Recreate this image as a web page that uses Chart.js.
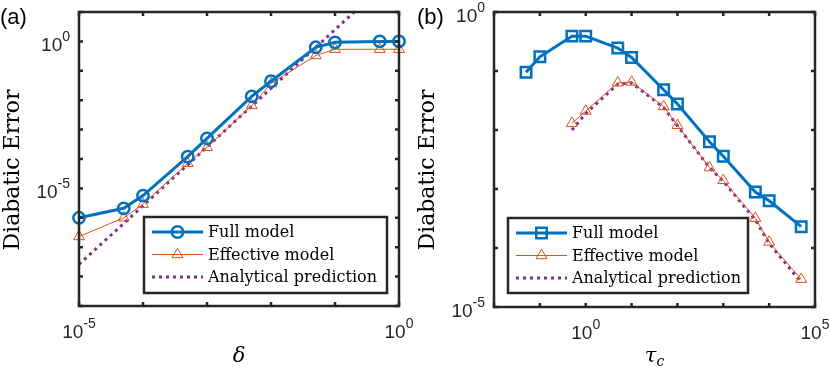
<!DOCTYPE html>
<html>
<head>
<meta charset="utf-8">
<script src="https://cdn.jsdelivr.net/npm/chart.js@4.4.1/dist/chart.umd.min.js"></script>
<style>
  html, body { margin: 0; padding: 0; background: #fff; }
  #wrap { position: relative; width: 830px; height: 370px; }
  .panel { position: absolute; top: 0; width: 415px; height: 370px; }
</style>
</head>
<body>
<div id="wrap">
  <div class="panel" style="left:0"><canvas id="chartA" width="415" height="370"></canvas></div>
  <div class="panel" style="left:415px"><canvas id="chartB" width="415" height="370"></canvas></div>
</div>
<script>
// ---- panel (a): error vs delta ----
const deltaVals = [1e-5, 5e-5, 1e-4, 5e-4, 1e-3, 5e-3, 1e-2, 5e-2, 1e-1, 5e-1, 1];
const fullA = [1.0e-6, 2.1e-6, 5.7e-6, 1.2e-4, 5.0e-4, 1.35e-2, 4.4e-2, 0.63, 0.93, 1.0, 1.0];
const effA = [2.3e-7, 1.0e-6, 2.9e-6, 7.1e-5, 2.5e-4, 6.6e-3, 3.7e-2, 0.33, 0.54, 0.54, 0.54];
const analyticAx = [1e-5, 0.2];
const analyticAy = [2.6e-8, 10];

const aTicksX = [1e-5, 1e-4, 1e-3, 1e-2, 1e-1, 1];
const aTicksY = [1e-9, 1e-8, 1e-7, 1e-6, 1e-5, 1e-4, 1e-3, 1e-2, 1e-1, 1, 10];
const aLabelX = [1e-5, 1];
const aLabelXExp = ["-5", "0"];
const aLabelY = [1e-5, 1];
const aLabelYExp = ["-5", "0"];

// ---- panel (b): error vs tau_c ----
const tauVals = [0.05, 0.1, 0.5, 1, 5, 10, 50, 100, 500, 1000, 5000, 1e4, 5e4];
const fullB = [0.095, 0.174, 0.39, 0.39, 0.245, 0.17, 0.048, 0.0275, 6.3e-3, 3.6e-3, 8.9e-4, 6.3e-4, 2.3e-4];
const tauEff = [0.5, 1, 5, 10, 50, 100, 500, 1000, 5000, 1e4, 5e4];
const effB = [0.013, 0.021, 0.063, 0.065, 0.025, 0.012, 2.3e-3, 1.4e-3, 3.2e-4, 1.26e-4, 2.95e-5];
const analyticB = [0.01, 0.019, 0.06, 0.063, 0.024, 0.0118, 2.3e-3, 1.35e-3, 3.0e-4, 1.2e-4, 2.6e-5];

const bTicksX = [1e-2, 1e-1, 1, 10, 100, 1e3, 1e4, 1e5];
const bTicksY = [1e-5, 1e-4, 1e-3, 1e-2, 1e-1, 1];
const bLabelX = [1, 1e5];
const bLabelXExp = ["0", "5"];
const bLabelY = [1e-5, 1];
const bLabelYExp = ["-5", "0"];

const legendLabels = ["Full model", "Effective model", "Analytical prediction"];

const BLUE = "#0072BD", ORANGE = "#D95319", PURPLE = "#7E2F8E", AXIS = "#262626";
const SERIF = '"DejaVu Serif", serif';
const SANS = '"Liberation Sans", Arial, sans-serif';

function pts(xs, ys) {
    return xs.map((x, i) => ({ x: x, y: ys[i] }));
}

function drawMarker(ctx, style, x, y, r) {
    ctx.beginPath();
    if (style === "circle") {
        ctx.arc(x, y, r, 0, 2 * Math.PI);
    } else if (style === "rect") {
        const s = r * Math.SQRT1_2;
        ctx.rect(x - s, y - s, 2 * s, 2 * s);
    } else if (style === "triangle") {
        for (let i = 0; i < 3; i++) {
            const ang = i * 2 * Math.PI / 3;
            const px = x + Math.sin(ang) * r, py = y - Math.cos(ang) * r;
            if (i) ctx.lineTo(px, py); else ctx.moveTo(px, py);
        }
        ctx.closePath();
    }
    ctx.stroke();
}

// "10" with a raised exponent, like matlab tick labels
function drawPow(ctx, exp, x, baseline, align) {
    ctx.font = "19px " + SANS;
    const wb = ctx.measureText("10").width;
    ctx.font = "14px " + SANS;
    const we = ctx.measureText(exp).width;
    const total = wb + we;
    let x0 = x;
    if (align === "center") x0 = x - total / 2;
    if (align === "right") x0 = x - total;
    ctx.textAlign = "left";
    ctx.textBaseline = "alphabetic";
    ctx.font = "19px " + SANS;
    ctx.fillText("10", x0, baseline);
    ctx.font = "14px " + SANS;
    ctx.fillText(exp, x0 + wb, baseline - 10);
}

const matlabAxes = {
    id: "matlabAxes",
    afterDraw(chart, args, o) {
        const ctx = chart.ctx, a = chart.chartArea;
        const xs = chart.scales.x, ys = chart.scales.y;
        ctx.save();

        // legend box
        const lb = o.legendBox;
        ctx.fillStyle = "#fff";
        ctx.fillRect(lb.x, lb.y, lb.w, lb.h);
        chart.data.datasets.forEach((ds, i) => {
            const cy = lb.y + 15 + i * 22.5;
            const x1 = lb.x + 8, x2 = lb.x + 59;
            ctx.strokeStyle = ds.borderColor;
            ctx.lineWidth = ds.borderWidth;
            ctx.setLineDash(ds.borderDash || []);
            ctx.beginPath();
            ctx.moveTo(x1, cy);
            ctx.lineTo(x2, cy);
            ctx.stroke();
            ctx.setLineDash([]);
            if (ds.pointRadius > 0) {
                ctx.lineWidth = ds.pointBorderWidth;
                drawMarker(ctx, ds.pointStyle, (x1 + x2) / 2, cy, ds.pointRadius);
            }
            ctx.fillStyle = "#000";
            ctx.font = "16px " + SERIF;
            ctx.textAlign = "left";
            ctx.textBaseline = "middle";
            ctx.fillText(ds.label, lb.x + 64, cy + 1);
        });
        ctx.strokeStyle = AXIS;
        ctx.lineWidth = 2.5;
        ctx.strokeRect(lb.x, lb.y, lb.w, lb.h);

        // axes box and inward ticks on all four sides
        ctx.strokeStyle = AXIS;
        ctx.lineWidth = 2.5;
        ctx.strokeRect(a.left, a.top, a.right - a.left, a.bottom - a.top);
        ctx.beginPath();
        o.ticksX.forEach(v => {
            const px = xs.getPixelForValue(v);
            ctx.moveTo(px, a.bottom); ctx.lineTo(px, a.bottom - 4);
            ctx.moveTo(px, a.top); ctx.lineTo(px, a.top + 4);
        });
        o.ticksY.forEach(v => {
            const py = ys.getPixelForValue(v);
            ctx.moveTo(a.left, py); ctx.lineTo(a.left + 4, py);
            ctx.moveTo(a.right, py); ctx.lineTo(a.right - 4, py);
        });
        ctx.stroke();

        // tick labels
        ctx.fillStyle = AXIS;
        o.labelX.forEach((v, i) => drawPow(ctx, o.labelXExp[i], xs.getPixelForValue(v), a.bottom + 32, "center"));
        o.labelY.forEach((v, i) => drawPow(ctx, o.labelYExp[i], a.left - 9, ys.getPixelForValue(v) + 10, "right"));

        // axis titles
        ctx.fillStyle = "#000";
        ctx.save();
        ctx.translate(o.yTitleX, o.yTitleY);
        ctx.rotate(-Math.PI / 2);
        ctx.font = "22px " + SERIF;
        ctx.textAlign = "center";
        ctx.textBaseline = "alphabetic";
        ctx.fillText("Diabatic Error", 0, 0);
        ctx.restore();

        const cx = (a.left + a.right) / 2;
        ctx.font = "italic 21px " + SERIF;
        ctx.textBaseline = "alphabetic";
        if (o.xSub) {
            const w1 = ctx.measureText(o.xTitle).width;
            ctx.font = "italic 14px " + SERIF;
            const w2 = ctx.measureText(o.xSub).width;
            const x0 = cx - (w1 + w2) / 2;
            ctx.textAlign = "left";
            ctx.font = "italic 21px " + SERIF;
            ctx.fillText(o.xTitle, x0, 362);
            ctx.font = "italic 14px " + SERIF;
            ctx.fillText(o.xSub, x0 + w1, 366);
        } else {
            ctx.textAlign = "center";
            ctx.fillText(o.xTitle, cx, 362);
        }

        // panel tag
        ctx.font = "22px " + SANS;
        ctx.textAlign = "left";
        ctx.fillStyle = "#000";
        ctx.fillText(o.tag, o.tagX, 24);

        ctx.restore();
    }
};

function makeChart(id, datasets, xRange, yRange, pad, axesOpts) {
    return new Chart(document.getElementById(id), {
        type: "line",
        data: { datasets: datasets },
        options: {
            responsive: false,
            animation: false,
            layout: { padding: pad },
            scales: {
                x: { type: "logarithmic", min: xRange[0], max: xRange[1], display: false },
                y: { type: "logarithmic", min: yRange[0], max: yRange[1], display: false }
            },
            plugins: {
                legend: { display: false },
                tooltip: { enabled: false },
                matlabAxes: axesOpts
            }
        },
        plugins: [matlabAxes]
    });
}

function fullSet(data, style, r) {
    return {
        label: legendLabels[0], data: data, borderColor: BLUE, borderWidth: 3,
        pointStyle: style, pointRadius: r, pointBorderWidth: 2.5,
        pointBorderColor: BLUE, pointBackgroundColor: "rgba(0,0,0,0)",
        tension: 0, clip: false
    };
}
function effSet(data) {
    return {
        label: legendLabels[1], data: data, borderColor: ORANGE, borderWidth: 1,
        pointStyle: "triangle", pointRadius: 6.3, pointBorderWidth: 1,
        pointBorderColor: ORANGE, pointBackgroundColor: "rgba(0,0,0,0)",
        tension: 0, clip: false
    };
}
function anaSet(data) {
    return {
        label: legendLabels[2], data: data, borderColor: PURPLE, borderWidth: 3,
        borderDash: [3, 4], borderCapStyle: "butt", pointRadius: 0,
        tension: 0, clip: false
    };
}

makeChart("chartA",
    [fullSet(pts(deltaVals, fullA), "circle", 5.7),
     effSet(pts(deltaVals, effA)),
     anaSet(pts(analyticAx, analyticAy))],
    [1e-5, 1], [1e-9, 10],
    { left: 79, right: 16, top: 12, bottom: 64 },
    {
        ticksX: aTicksX, ticksY: aTicksY,
        labelX: aLabelX, labelXExp: aLabelXExp, labelY: aLabelY, labelYExp: aLabelYExp,
        legendBox: { x: 144, y: 217, w: 243, h: 76 },
        yTitleX: 19, yTitleY: 170, xTitle: "δ", xSub: null, tag: "(a)", tagX: 0
    });

makeChart("chartB",
    [fullSet(pts(tauVals, fullB), "rect", 7.4),
     effSet(pts(tauEff, effB)),
     anaSet(pts(tauEff, analyticB))],
    [1e-2, 1e5], [1e-5, 1],
    { left: 79, right: 15, top: 12, bottom: 63 },
    {
        ticksX: bTicksX, ticksY: bTicksY,
        labelX: bLabelX, labelXExp: bLabelXExp, labelY: bLabelY, labelYExp: bLabelYExp,
        legendBox: { x: 93, y: 218, w: 240, h: 75 },
        yTitleX: 19, yTitleY: 170, xTitle: "τ", xSub: "c", tag: "(b)", tagX: 2
    });
</script>
</body>
</html>
